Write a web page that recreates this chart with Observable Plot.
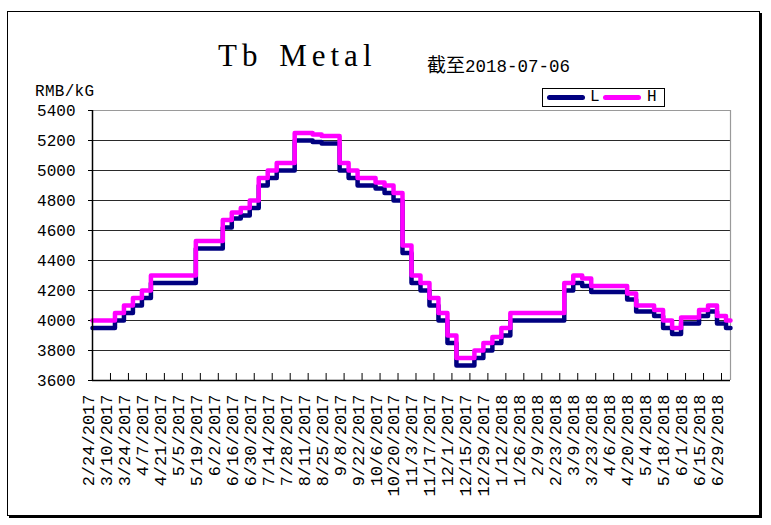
<!DOCTYPE html>
<html>
<head>
<meta charset="utf-8">
<script src="https://cdn.jsdelivr.net/npm/d3@7"></script>
<script src="https://cdn.jsdelivr.net/npm/@observablehq/plot@0.6"></script>
<style>
  html, body { margin: 0; padding: 0; background: #fff; }
  #wrap { position: relative; width: 771px; height: 525px; overflow: hidden; background: #fff; }
  #frame { position: absolute; left: 7px; top: 11px; width: 751px; height: 503px; border: 1px solid #000; box-shadow: 2px 2px 0 #000; }
  #chart { position: absolute; left: 0; top: 0; }
  .t { position: absolute; white-space: nowrap; color: #000; }
  #title { left: 218px; top: 38px; font: 31px "Liberation Serif", serif; letter-spacing: 5px; word-spacing: 4px; }
  #sub { left: 427px; top: 50px; font-size: 19px; }
  #sub .cjk { font-family: "Noto Sans CJK SC", sans-serif; }
  #sub .num { font-family: "Liberation Mono", monospace; font-size: 17.5px; }
  #ylab { left: 35px; top: 83px; font: 16px "Liberation Mono", monospace; letter-spacing: 0.3px; line-height: 18px; }
  #legend { position: absolute; left: 542px; top: 88px; width: 121px; height: 17px; border: 1px solid #000; background: #fff; font: 16px "Liberation Mono", monospace; }
  #legend .bar { position: absolute; top: 6px; height: 5px; border-radius: 3px; width: 38px; }
  #legend .lab { position: absolute; top: -1px; }
</style>
</head>
<body>
<div id="wrap">
  <div id="frame"></div>
  <div id="chart"></div>
  <div class="t" id="title">Tb Metal</div>
  <div class="t" id="sub"><span class="cjk">截至</span><span class="num">2018-07-06</span></div>
  <div class="t" id="ylab">RMB/kG</div>
  <div id="legend">
    <div class="bar" style="left:4px;background:#000080"></div>
    <div class="lab" style="left:47px">L</div>
    <div class="bar" style="left:60px;background:#ff00ff"></div>
    <div class="lab" style="left:104px">H</div>
  </div>
</div>
<script>
// Weekly observation dates
const dates = [
  "2017-02-24","2017-03-03","2017-03-10","2017-03-17","2017-03-24","2017-03-31","2017-04-07","2017-04-14",
  "2017-04-21","2017-04-28","2017-05-05","2017-05-12","2017-05-19","2017-05-26","2017-06-02","2017-06-09",
  "2017-06-16","2017-06-23","2017-06-30","2017-07-07","2017-07-14","2017-07-21","2017-07-28","2017-08-04",
  "2017-08-11","2017-08-18","2017-08-25","2017-09-01","2017-09-08","2017-09-15","2017-09-22","2017-09-29",
  "2017-10-06","2017-10-13","2017-10-20","2017-10-27","2017-11-03","2017-11-10","2017-11-17","2017-11-24",
  "2017-12-01","2017-12-08","2017-12-15","2017-12-22","2017-12-29","2018-01-05","2018-01-12","2018-01-19",
  "2018-01-26","2018-02-02","2018-02-09","2018-02-16","2018-02-23","2018-03-02","2018-03-09","2018-03-16",
  "2018-03-23","2018-03-30","2018-04-06","2018-04-13","2018-04-20","2018-04-27","2018-05-04","2018-05-11",
  "2018-05-18","2018-05-25","2018-06-01","2018-06-08","2018-06-15","2018-06-22","2018-06-29","2018-07-06"
];
// H series (RMB/kG)
const H = [
  4000,4000,4000,4050,4100,4150,4200,4300,
  4300,4300,4300,4300,4530,4530,4530,4670,
  4720,4750,4800,4950,5000,5050,5050,5250,
  5250,5240,5230,5230,5050,5000,4950,4950,
  4920,4900,4850,4500,4300,4250,4150,4050,
  3900,3750,3750,3800,3850,3890,3950,4050,
  4050,4050,4050,4050,4050,4250,4300,4280,
  4230,4230,4230,4230,4180,4100,4100,4070,
  4000,3950,4020,4020,4070,4100,4030,4000
];
// L series (RMB/kG)
const L = [
  3950,3950,3950,4000,4050,4100,4150,4250,
  4250,4250,4250,4250,4480,4480,4480,4620,
  4680,4700,4750,4900,4950,5000,5000,5200,
  5200,5190,5180,5180,5000,4950,4900,4900,
  4880,4850,4800,4450,4250,4200,4100,4000,
  3850,3700,3700,3750,3800,3850,3900,4000,
  4000,4000,4000,4000,4000,4200,4250,4230,
  4190,4190,4190,4190,4140,4060,4060,4030,
  3950,3910,3980,3980,4030,4060,3980,3950
];
const yTicks = [3600,3800,4000,4200,4400,4600,4800,5000,5200,5400];
const xTickLabels = [
  "2/24/2017","3/10/2017","3/24/2017","4/7/2017","4/21/2017","5/5/2017","5/19/2017","6/2/2017",
  "6/16/2017","6/30/2017","7/14/2017","7/28/2017","8/11/2017","8/25/2017","9/8/2017","9/22/2017",
  "10/6/2017","10/20/2017","11/3/2017","11/17/2017","12/1/2017","12/15/2017","12/29/2017","1/12/2018",
  "1/26/2018","2/9/2018","2/23/2018","3/9/2018","3/23/2018","4/6/2018","4/20/2018","5/4/2018",
  "5/18/2018","6/1/2018","6/15/2018","6/29/2018"
];

const parseISO = d3.utcParse("%Y-%m-%d");
const parseLab = d3.utcParse("%m/%d/%Y");
const rows = dates.map((d, i) => ({date: parseISO(d), H: H[i], L: L[i]}));
const ticks = xTickLabels.map(s => ({date: parseLab(s), label: s}));
const x0 = rows[0].date, x1 = rows[rows.length - 1].date;
const y0 = yTicks[0], y1 = yTicks[yTicks.length - 1];

const chart = Plot.plot({
  width: 771,
  height: 525,
  marginLeft: 92,
  marginRight: 41,
  marginTop: 110,
  marginBottom: 145,
  style: {background: "transparent", color: "#000", fontFamily: "'Liberation Mono', monospace"},
  x: {type: "utc", domain: [x0, x1], axis: null},
  y: {domain: [y0, y1], axis: null},
  marks: [
    Plot.ruleY(yTicks.filter(v => v > y0 && v < y1), {stroke: "#2a2a2a", strokeWidth: 1.2}),
    Plot.ruleY([y1], {stroke: "#9a9a9a", strokeWidth: 1.2}),
    Plot.ruleX([x1], {stroke: "#9a9a9a", strokeWidth: 1.2}),
    Plot.ruleX(ticks, {x: "date", y1: y0, y2: y0, insetTop: -7, stroke: "#000", strokeWidth: 1}),
    Plot.axisY({ticks: yTicks, tickSize: 4, tickPadding: 13, fontSize: 16, label: null, tickFormat: d => String(d)}),
    Plot.line(rows, {x: "date", y: "L", stroke: "#000080", strokeWidth: 4.5, curve: "step", strokeLinejoin: "round", strokeLinecap: "round"}),
    Plot.line(rows, {x: "date", y: "H", stroke: "#ff00ff", strokeWidth: 4.5, curve: "step", strokeLinejoin: "round", strokeLinecap: "round"}),
    Plot.ruleX([x0], {stroke: "#000", strokeWidth: 1.5}),
    Plot.ruleY([y0], {stroke: "#000", strokeWidth: 1.5}),
    Plot.text(ticks, {x: "date", frameAnchor: "bottom", text: "label", rotate: -90, textAnchor: "end", lineAnchor: "middle", dx: -4, dy: 14, fontSize: 17})
  ]
});
document.getElementById("chart").appendChild(chart);
</script>
</body>
</html>
